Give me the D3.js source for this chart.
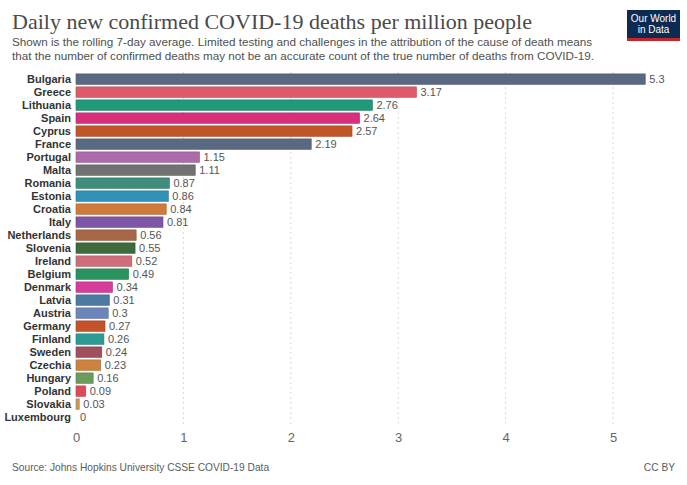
<!DOCTYPE html>
<html><head><meta charset="utf-8">
<script src="https://cdn.jsdelivr.net/npm/d3@7"></script>
<style>
body{margin:0;background:#fff;}
svg{display:block;}
</style></head>
<body>
<svg id="chart" width="687" height="485"></svg>
<script>
const countries = ["Bulgaria","Greece","Lithuania","Spain","Cyprus","France","Portugal","Malta","Romania","Estonia","Croatia","Italy","Netherlands","Slovenia","Ireland","Belgium","Denmark","Latvia","Austria","Germany","Finland","Sweden","Czechia","Hungary","Poland","Slovakia","Luxembourg"];
const values = [5.3,3.17,2.76,2.64,2.57,2.19,1.15,1.11,0.87,0.86,0.84,0.81,0.56,0.55,0.52,0.49,0.34,0.31,0.3,0.27,0.26,0.24,0.23,0.16,0.09,0.03,0];
const colors = ["#5a6882","#de5a6a","#21987a","#d6307c","#c25528","#5a6882","#ac6cab","#717171","#3e8e7b","#3190b5","#d0793d","#7d56a6","#a86747","#3e6a3d","#cf6e7b","#28935f","#d43d9b","#4e79a1","#6c86b9","#c4522a","#2d9b94","#a14e5d","#cc8340","#6b9c5c","#df4a5a","#c89a5a","#9a8a7a"];
const xTicks = [0,1,2,3,4,5];
const titleText = "Daily new confirmed COVID-19 deaths per million people";
const subtitleLines = ["Shown is the rolling 7-day average. Limited testing and challenges in the attribution of the cause of death means","that the number of confirmed deaths may not be an accurate count of the true number of deaths from COVID-19."];
const sourceText = "Source: Johns Hopkins University CSSE COVID-19 Data";

const data = countries.map((c,i)=>({country:c,value:values[i],color:colors[i]}));
const svg = d3.select("#chart");

const x = d3.scaleLinear().domain([0,5]).range([76,613]);
const y = d3.scaleBand().domain(countries).range([72.6, 72.6+countries.length*13.0]).paddingInner(0.2).paddingOuter(0.1);

// title
svg.append("text").attr("x",12).attr("y",29).attr("font-family","Liberation Serif, serif")
  .attr("font-size",22).attr("fill","#4a4a4a").text(titleText);
subtitleLines.forEach((t,i)=>{
  svg.append("text").attr("x",12).attr("y",46+i*14).attr("font-family","Liberation Sans, Arial, sans-serif")
    .attr("font-size",11.7).attr("fill","#4f4f4f").text(t);
});

// logo
const logo = svg.append("g");
logo.append("rect").attr("x",627).attr("y",10).attr("width",53).attr("height",31).attr("fill","#0d2a52");
logo.append("rect").attr("x",627).attr("y",38).attr("width",53).attr("height",3).attr("fill","#c8242c");
logo.append("text").attr("x",653.5).attr("y",22).attr("text-anchor","middle").attr("font-family","Liberation Sans, Arial, sans-serif").attr("font-size",10).attr("fill","#fff").text("Our World");
logo.append("text").attr("x",653.5).attr("y",33).attr("text-anchor","middle").attr("font-family","Liberation Sans, Arial, sans-serif").attr("font-size",10).attr("fill","#fff").text("in Data");

// gridlines
svg.append("g").selectAll("line").data(xTicks.filter(d=>d>0)).join("line")
  .attr("x1",d=>x(d)).attr("x2",d=>x(d)).attr("y1",72).attr("y2",426)
  .attr("stroke","#d8d8d8").attr("stroke-dasharray","2,3").attr("stroke-width",1);

// axis
const axis = d3.axisBottom(x).tickValues(xTicks).tickSize(0).tickPadding(0).tickFormat(d3.format("d"));
const ag = svg.append("g").attr("transform","translate(0,433)").call(axis);
ag.select(".domain").remove();
ag.selectAll("text").attr("font-family","Liberation Sans, Arial, sans-serif").attr("font-size",13).attr("fill","#666").attr("dy","0.71em");

// bars
svg.append("g").selectAll("rect").data(data).join("rect")
  .attr("x",x(0)).attr("y",d=>y(d.country)).attr("width",d=>Math.max(0,x(d.value)-x(0)))
  .attr("height",y.bandwidth()).attr("fill",d=>d.color)
  .attr("stroke",d=>d3.color(d.color).darker(0.6)).attr("stroke-width",0.6);

// country labels
svg.append("g").selectAll("text").data(data).join("text")
  .attr("x",71).attr("y",d=>y(d.country)+y.bandwidth()/2).attr("dy","0.35em")
  .attr("text-anchor","end").attr("font-family","Liberation Sans, Arial, sans-serif")
  .attr("font-size",11).attr("font-weight","bold").attr("fill","#333").text(d=>d.country);

// value labels
svg.append("g").selectAll("text").data(data).join("text")
  .attr("x",d=>x(d.value)+4).attr("y",d=>y(d.country)+y.bandwidth()/2).attr("dy","0.35em")
  .attr("font-family","Liberation Sans, Arial, sans-serif").attr("font-size",11).attr("fill","#555")
  .text(d=>d.value);

// footer
svg.append("text").attr("x",12).attr("y",471).attr("font-family","Liberation Sans, Arial, sans-serif").attr("font-size",10.2).attr("fill","#5b5b5b").text(sourceText);
svg.append("text").attr("x",675).attr("y",471).attr("text-anchor","end").attr("font-family","Liberation Sans, Arial, sans-serif").attr("font-size",10.2).attr("fill","#5b5b5b").text("CC BY");
</script>
</body></html>
